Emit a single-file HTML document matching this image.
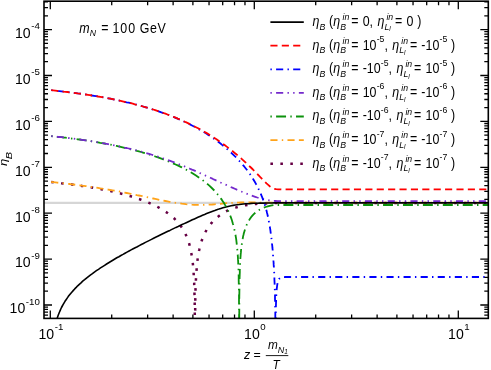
<!DOCTYPE html><html><head><meta charset="utf-8"><style>html,body{margin:0;padding:0;background:#fff}body{width:491px;height:370px;overflow:hidden;position:relative;font-family:"Liberation Sans",sans-serif}</style></head><body><svg width="491" height="370" viewBox="0 0 491 370" style="position:absolute;left:0;top:0;will-change:transform">
<defs><clipPath id="c"><rect x="44.0" y="1.2" width="444.3" height="317.2"/></clipPath></defs>
<rect x="0" y="0" width="491" height="370" fill="#fff"/>
<line x1="44.0" x2="488.3" y1="202.9" y2="202.9" stroke="#d6d6d6" stroke-width="2.4"/>
<g clip-path="url(#c)" fill="none" stroke-linejoin="round">
<path d="M51.2 182.0 L53.2 182.2 L55.3 182.5 L57.3 182.7 L59.4 182.9 L61.4 183.2 L63.4 183.4 L65.5 183.6 L67.5 183.9 L69.6 184.2 L71.6 184.4 L73.6 184.7 L75.7 185.0 L77.7 185.3 L79.8 185.6 L81.8 185.9 L83.8 186.2 L85.9 186.5 L87.9 186.8 L90.0 187.2 L92.0 187.5 L94.0 187.9 L96.1 188.2 L98.1 188.6 L100.2 189.0 L102.2 189.4 L104.2 189.8 L106.3 190.2 L108.3 190.7 L110.4 191.1 L112.4 191.5 L114.4 192.0 L116.5 192.5 L118.5 193.0 L120.6 193.5 L122.6 194.0 L124.6 194.6 L126.7 195.1 L128.7 195.7 L130.8 196.3 L132.8 197.0 L134.8 197.6 L136.9 198.3 L138.9 199.0 L141.0 199.7 L143.0 200.4 L145.0 201.2 L147.1 202.0 L149.1 202.9 L151.2 203.8 L153.2 204.7 L155.2 205.7 L157.3 206.7 L159.3 207.8 L161.4 209.0 L163.4 210.2 L165.4 211.6 L167.5 213.0 L169.5 214.5 L171.4 216.0 L173.2 217.5 L174.8 219.0 L176.3 220.6 L177.7 222.1 L179.0 223.7 L180.2 225.2 L181.3 226.7 L182.3 228.2 L183.2 229.8 L184.1 231.3 L184.9 232.8 L185.7 234.5 L186.4 236.1 L187.1 237.7 L187.7 239.2 L188.3 240.9 L188.8 242.4 L189.3 244.1 L189.7 245.7 L190.1 247.5 L190.5 249.0 L190.9 250.7 L191.2 252.6 L191.5 254.2 L191.8 256.0 L192.1 257.9 L192.3 259.5 L192.6 261.2 L192.8 263.1 L193.0 265.2 L193.1 266.7 L193.3 268.3 L193.4 270.1 L193.6 272.1 L193.7 274.3 L193.9 276.8 L194.0 279.6 L194.1 281.1 L194.2 282.8 L194.2 284.7 L194.3 286.8 L194.4 289.0 L194.4 291.6 L194.5 294.6 L194.6 298.1 L194.7 302.4 L194.7 307.8 L194.8 315.2 L194.9 326.5 L195.1 319.4 L195.2 310.5 L195.2 304.4 L195.3 299.8 L195.4 296.0 L195.5 292.8 L195.5 290.1 L195.6 287.7 L195.7 285.5 L195.8 283.6 L195.8 281.8 L195.9 280.2 L196.0 278.7 L196.1 276.0 L196.3 273.6 L196.4 271.5 L196.6 269.6 L196.7 267.8 L196.9 266.2 L197.1 264.0 L197.3 262.0 L197.5 260.2 L197.7 258.6 L197.9 257.1 L198.2 255.2 L198.5 253.5 L198.8 251.9 L199.2 250.1 L199.5 248.5 L199.9 246.9 L200.3 245.2 L200.8 243.7 L201.3 242.0 L201.8 240.5 L202.4 238.8 L203.0 237.3 L203.6 235.8 L204.4 234.2 L205.2 232.5 L206.0 231.0 L206.8 229.5 L207.8 228.0 L208.8 226.5 L210.0 224.9 L211.2 223.4 L212.5 221.8 L214.0 220.3 L215.6 218.8 L217.3 217.2 L219.3 215.7 L221.3 214.2 L223.4 212.9 L225.4 211.8 L227.5 210.7 L229.5 209.8 L231.5 209.0 L233.6 208.2 L235.6 207.6 L237.7 207.0 L239.7 206.4 L241.7 206.0 L243.8 205.6 L245.8 205.2 L247.9 204.9 L249.9 204.6 L251.9 204.4 L254.0 204.2 L256.0 204.0 L258.1 203.8 L260.1 203.7 L262.1 203.6 L264.2 203.5 L266.2 203.4 L268.3 203.3 L270.3 203.2 L272.3 203.2 L274.4 203.1 L276.4 203.1 L278.5 203.1 L280.5 203.1 L282.5 203.1 L284.6 203.1 L286.6 203.1 L288.7 203.1 L290.7 203.1 L292.7 203.1 L294.8 203.1 L296.8 203.1 L298.9 203.1 L300.9 203.1 L302.9 203.1 L305.0 203.1 L307.0 203.1 L309.1 203.1 L311.1 203.1 L313.1 203.1 L315.2 203.1 L317.2 203.1 L319.3 203.1 L321.3 203.1 L323.3 203.1 L325.4 203.1 L327.4 203.1 L329.5 203.1 L331.5 203.1 L333.5 203.1 L335.6 203.1 L337.6 203.1 L339.7 203.1 L341.7 203.1 L343.7 203.1 L345.8 203.1 L347.8 203.1 L349.9 203.1 L351.9 203.1 L353.9 203.1 L356.0 203.1 L358.0 203.1 L360.1 203.1 L362.1 203.1 L364.1 203.1 L366.2 203.1 L368.2 203.1 L370.3 203.1 L372.3 203.1 L374.3 203.1 L376.4 203.1 L378.4 203.1 L380.5 203.1 L382.5 203.1 L384.5 203.1 L386.6 203.1 L388.6 203.1 L390.7 203.1 L392.7 203.1 L394.7 203.1 L396.8 203.1 L398.8 203.1 L400.9 203.1 L402.9 203.1 L404.9 203.1 L407.0 203.1 L409.0 203.1 L411.1 203.1 L413.1 203.1 L415.1 203.1 L417.2 203.1 L419.2 203.1 L421.3 203.1 L423.3 203.1 L425.3 203.1 L427.4 203.1 L429.4 203.1 L431.5 203.1 L433.5 203.1 L435.5 203.1 L437.6 203.1 L439.6 203.1 L441.7 203.1 L443.7 203.1 L445.7 203.1 L447.8 203.1 L449.8 203.1 L451.9 203.1 L453.9 203.1 L455.9 203.1 L458.0 203.1 L460.0 203.1 L462.1 203.1 L464.1 203.1 L466.1 203.1 L468.2 203.1 L470.2 203.1 L472.3 203.1 L474.3 203.1 L476.4 203.1 L478.4 203.1 L480.4 203.1 L482.5 203.1 L484.5 203.1 L486.6 203.1 L488.3 203.1" stroke="#660044" stroke-width="2.5" stroke-dasharray="2.56 7.40"/>
<path d="M51.2 182.0 L53.2 182.2 L55.3 182.4 L57.3 182.6 L59.4 182.9 L61.4 183.1 L63.4 183.3 L65.5 183.5 L67.5 183.8 L69.6 184.0 L71.6 184.3 L73.6 184.5 L75.7 184.8 L77.7 185.0 L79.8 185.3 L81.8 185.6 L83.8 185.8 L85.9 186.1 L87.9 186.4 L90.0 186.7 L92.0 187.0 L94.0 187.3 L96.1 187.6 L98.1 187.9 L100.2 188.3 L102.2 188.6 L104.2 188.9 L106.3 189.3 L108.3 189.6 L110.4 190.0 L112.4 190.3 L114.4 190.7 L116.5 191.1 L118.5 191.4 L120.6 191.8 L122.6 192.2 L124.6 192.6 L126.7 193.0 L128.7 193.4 L130.8 193.8 L132.8 194.2 L134.8 194.6 L136.9 195.1 L138.9 195.5 L141.0 195.9 L143.0 196.3 L145.0 196.8 L147.1 197.2 L149.1 197.6 L151.2 198.1 L153.2 198.5 L155.2 198.9 L157.3 199.3 L159.3 199.8 L161.4 200.2 L163.4 200.6 L165.4 201.0 L167.5 201.4 L169.5 201.8 L171.6 202.1 L173.6 202.5 L175.6 202.8 L177.7 203.1 L179.7 203.4 L181.8 203.7 L183.8 203.9 L185.8 204.2 L187.9 204.4 L189.9 204.5 L192.0 204.7 L194.0 204.8 L196.0 204.9 L198.1 204.9 L200.1 204.9 L202.2 204.9 L204.2 204.9 L206.3 204.8 L208.3 204.7 L210.3 204.6 L212.4 204.5 L214.4 204.3 L216.5 204.1 L218.5 203.9 L220.5 203.8 L222.6 203.6 L224.6 203.4 L226.7 203.2 L228.7 203.1 L230.7 203.0 L232.8 202.8 L234.8 202.7 L236.9 202.6 L238.9 202.6 L240.9 202.5 L243.0 202.5 L245.0 202.5 L247.1 202.5 L249.1 202.5 L251.1 202.5 L253.2 202.5 L255.2 202.5 L257.3 202.6 L259.3 202.6 L261.3 202.6 L263.4 202.6 L265.4 202.7 L267.5 202.7 L269.5 202.7 L271.5 202.7 L273.6 202.7 L275.6 202.7 L277.7 202.7 L279.7 202.7 L281.7 202.7 L283.8 202.7 L285.8 202.7 L287.9 202.7 L289.9 202.7 L291.9 202.7 L294.0 202.7 L296.0 202.7 L298.1 202.7 L300.1 202.7 L302.1 202.7 L304.2 202.7 L306.2 202.7 L308.3 202.7 L310.3 202.7 L312.3 202.7 L314.4 202.7 L316.4 202.7 L318.5 202.7 L320.5 202.7 L322.5 202.7 L324.6 202.7 L326.6 202.7 L328.7 202.7 L330.7 202.7 L332.7 202.7 L334.8 202.7 L336.8 202.7 L338.9 202.7 L340.9 202.7 L342.9 202.7 L345.0 202.7 L347.0 202.7 L349.1 202.7 L351.1 202.7 L353.1 202.7 L355.2 202.7 L357.2 202.7 L359.3 202.7 L361.3 202.7 L363.3 202.7 L365.4 202.7 L367.4 202.7 L369.5 202.7 L371.5 202.7 L373.5 202.7 L375.6 202.7 L377.6 202.7 L379.7 202.7 L381.7 202.7 L383.7 202.7 L385.8 202.7 L387.8 202.7 L389.9 202.7 L391.9 202.7 L393.9 202.7 L396.0 202.7 L398.0 202.7 L400.1 202.7 L402.1 202.7 L404.1 202.7 L406.2 202.7 L408.2 202.7 L410.3 202.7 L412.3 202.7 L414.3 202.7 L416.4 202.7 L418.4 202.7 L420.5 202.7 L422.5 202.7 L424.5 202.7 L426.6 202.7 L428.6 202.7 L430.7 202.7 L432.7 202.7 L434.7 202.7 L436.8 202.7 L438.8 202.7 L440.9 202.7 L442.9 202.7 L444.9 202.7 L447.0 202.7 L449.0 202.7 L451.1 202.7 L453.1 202.7 L455.1 202.7 L457.2 202.7 L459.2 202.7 L461.3 202.7 L463.3 202.7 L465.3 202.7 L467.4 202.7 L469.4 202.7 L471.5 202.7 L473.5 202.7 L475.5 202.7 L477.6 202.7 L479.6 202.7 L481.7 202.7 L483.7 202.7 L485.7 202.7 L487.8 202.7 L488.3 202.7" stroke="#ffa319" stroke-width="1.8" stroke-dasharray="7.12 4.27 1.42 4.27 7.12 4.27"/>
<path d="M51.2 326.5 L53.2 326.5 L55.3 325.2 L55.7 323.4 L56.2 321.8 L56.6 320.2 L57.1 318.6 L57.6 317.0 L58.2 315.3 L58.8 313.8 L59.4 312.2 L60.1 310.6 L60.8 309.0 L61.5 307.5 L62.3 306.0 L63.2 304.4 L64.1 302.8 L65.0 301.3 L66.1 299.7 L67.2 298.1 L68.2 296.6 L69.4 295.1 L70.7 293.5 L72.0 292.0 L73.4 290.4 L74.7 288.9 L76.2 287.4 L77.7 285.8 L79.3 284.3 L81.0 282.8 L82.7 281.2 L84.6 279.7 L86.5 278.1 L88.4 276.6 L90.3 275.1 L92.4 273.6 L94.4 272.1 L96.4 270.7 L98.5 269.3 L100.5 267.9 L102.6 266.6 L104.6 265.3 L106.6 264.0 L108.7 262.7 L110.7 261.5 L112.8 260.2 L114.8 259.0 L116.8 257.8 L118.9 256.7 L120.9 255.5 L123.0 254.4 L125.0 253.2 L127.0 252.1 L129.1 251.0 L131.1 249.9 L133.2 248.8 L135.2 247.7 L137.3 246.7 L139.3 245.6 L141.3 244.5 L143.4 243.5 L145.4 242.4 L147.5 241.4 L149.5 240.4 L151.5 239.4 L153.6 238.3 L155.6 237.3 L157.7 236.3 L159.7 235.3 L161.7 234.3 L163.8 233.3 L165.8 232.3 L167.9 231.3 L169.9 230.4 L171.9 229.4 L174.0 228.4 L176.0 227.4 L178.1 226.5 L180.1 225.5 L182.1 224.6 L184.2 223.6 L186.2 222.7 L188.3 221.7 L190.3 220.8 L192.3 219.8 L194.4 218.9 L196.4 218.0 L198.5 217.1 L200.5 216.2 L202.5 215.3 L204.6 214.5 L206.6 213.6 L208.7 212.8 L210.7 212.0 L212.7 211.2 L214.8 210.5 L216.8 209.7 L218.9 209.1 L220.9 208.4 L222.9 207.8 L225.0 207.2 L227.0 206.7 L229.1 206.2 L231.1 205.8 L233.1 205.4 L235.2 205.0 L237.2 204.7 L239.3 204.5 L241.3 204.2 L243.3 204.0 L245.4 203.8 L247.4 203.7 L249.5 203.6 L251.5 203.4 L253.5 203.3 L255.6 203.3 L257.6 203.2 L259.7 203.1 L261.7 203.1 L263.7 203.1 L265.8 203.0 L267.8 203.0 L269.9 203.0 L271.9 203.0 L273.9 202.9 L276.0 202.9 L278.0 202.9 L280.1 202.9 L282.1 202.9 L284.1 202.9 L286.2 202.9 L288.2 202.9 L290.3 202.9 L292.3 202.9 L294.3 202.9 L296.4 202.9 L298.4 202.9 L300.5 202.9 L302.5 202.9 L304.5 202.9 L306.6 202.9 L308.6 202.9 L310.7 202.9 L312.7 202.9 L314.7 202.9 L316.8 202.9 L318.8 202.9 L320.9 202.9 L322.9 202.9 L324.9 202.9 L327.0 202.9 L329.0 202.9 L331.1 202.9 L333.1 202.9 L335.1 202.9 L337.2 202.9 L339.2 202.9 L341.3 202.9 L343.3 202.9 L345.3 202.9 L347.4 202.9 L349.4 202.9 L351.5 202.9 L353.5 202.9 L355.5 202.9 L357.6 202.9 L359.6 202.9 L361.7 202.9 L363.7 202.9 L365.7 202.9 L367.8 202.9 L369.8 202.9 L371.9 202.9 L373.9 202.9 L375.9 202.9 L378.0 202.9 L380.0 202.9 L382.1 202.9 L384.1 202.9 L386.1 202.9 L388.2 202.9 L390.2 202.9 L392.3 202.9 L394.3 202.9 L396.3 202.9 L398.4 202.9 L400.4 202.9 L402.5 202.9 L404.5 202.9 L406.5 202.9 L408.6 202.9 L410.6 202.9 L412.7 202.9 L414.7 202.9 L416.7 202.9 L418.8 202.9 L420.8 202.9 L422.9 202.9 L424.9 202.9 L427.0 202.9 L429.0 202.9 L431.0 202.9 L433.1 202.9 L435.1 202.9 L437.2 202.9 L439.2 202.9 L441.2 202.9 L443.3 202.9 L445.3 202.9 L447.4 202.9 L449.4 202.9 L451.4 202.9 L453.5 202.9 L455.5 202.9 L457.6 202.9 L459.6 202.9 L461.6 202.9 L463.7 202.9 L465.7 202.9 L467.8 202.9 L469.8 202.9 L471.8 202.9 L473.9 202.9 L475.9 202.9 L478.0 202.9 L480.0 202.9 L482.0 202.9 L484.1 202.9 L486.1 202.9 L488.2 202.9 L488.3 202.9" stroke="#000000" stroke-width="1.6"/>
<path d="M51.2 136.1 L53.2 136.3 L55.3 136.5 L57.3 136.8 L59.4 137.0 L61.4 137.2 L63.4 137.5 L65.5 137.7 L67.5 137.9 L69.6 138.2 L71.6 138.5 L73.6 138.7 L75.7 139.0 L77.7 139.3 L79.8 139.5 L81.8 139.8 L83.8 140.1 L85.9 140.4 L87.9 140.7 L90.0 141.1 L92.0 141.4 L94.0 141.7 L96.1 142.1 L98.1 142.4 L100.2 142.8 L102.2 143.1 L104.2 143.5 L106.3 143.9 L108.3 144.3 L110.4 144.7 L112.4 145.1 L114.4 145.5 L116.5 145.9 L118.5 146.4 L120.6 146.8 L122.6 147.3 L124.6 147.8 L126.7 148.3 L128.7 148.8 L130.8 149.3 L132.8 149.8 L134.8 150.3 L136.9 150.9 L138.9 151.4 L141.0 152.0 L143.0 152.6 L145.0 153.2 L147.1 153.8 L149.1 154.5 L151.2 155.1 L153.2 155.8 L155.2 156.5 L157.3 157.2 L159.3 157.9 L161.4 158.6 L163.4 159.4 L165.4 160.2 L167.5 161.0 L169.5 161.8 L171.6 162.7 L173.6 163.6 L175.6 164.5 L177.7 165.4 L179.7 166.4 L181.8 167.4 L183.8 168.5 L185.8 169.5 L187.9 170.6 L189.9 171.8 L192.0 173.0 L194.0 174.3 L196.0 175.6 L198.1 176.9 L200.1 178.3 L202.2 179.8 L204.1 181.3 L206.0 182.8 L207.9 184.4 L209.6 185.9 L211.3 187.5 L212.8 189.0 L214.3 190.5 L215.7 192.1 L217.1 193.7 L218.4 195.2 L219.7 196.8 L220.8 198.4 L221.9 199.9 L222.9 201.4 L224.0 203.0 L224.9 204.6 L225.8 206.1 L226.7 207.8 L227.5 209.3 L228.2 210.8 L228.9 212.4 L229.6 214.0 L230.2 215.6 L230.8 217.1 L231.4 218.8 L231.9 220.3 L232.4 221.9 L232.9 223.7 L233.4 225.3 L233.8 227.0 L234.2 228.5 L234.5 230.2 L234.9 231.9 L235.2 233.4 L235.5 235.0 L235.8 236.8 L236.1 238.7 L236.3 240.2 L236.5 241.9 L236.7 243.6 L236.9 245.6 L237.1 247.7 L237.3 249.3 L237.4 250.9 L237.6 252.7 L237.7 254.7 L237.9 256.9 L238.0 259.4 L238.2 262.2 L238.2 263.7 L238.3 265.4 L238.4 267.2 L238.5 269.2 L238.5 271.4 L238.6 273.9 L238.7 276.7 L238.7 280.0 L238.8 284.0 L238.9 288.9 L239.0 295.3 L239.0 305.0 L239.1 324.2 L239.2 326.5 L239.3 308.2 L239.3 297.3 L239.4 290.4 L239.5 285.2 L239.5 281.2 L239.6 277.8 L239.7 274.9 L239.8 272.4 L239.8 270.2 L239.9 268.2 L240.0 266.4 L240.1 264.8 L240.1 263.2 L240.3 260.5 L240.4 258.1 L240.6 256.0 L240.7 254.1 L240.9 252.4 L241.0 250.8 L241.2 248.6 L241.4 246.7 L241.7 245.0 L241.9 243.4 L242.2 241.5 L242.5 239.7 L242.8 238.2 L243.1 236.4 L243.5 234.8 L243.9 233.0 L244.4 231.4 L244.9 229.7 L245.4 228.2 L246.0 226.7 L246.6 225.1 L247.3 223.5 L248.1 221.9 L249.0 220.4 L250.0 218.8 L251.1 217.2 L252.4 215.7 L253.8 214.2 L255.5 212.6 L257.5 211.1 L259.5 209.8 L261.6 208.7 L263.6 207.8 L265.6 207.0 L267.7 206.3 L269.7 205.8 L271.8 205.4 L273.8 205.1 L275.8 205.0 L277.9 205.0 L279.9 205.0 L282.0 205.0 L284.0 205.0 L286.0 205.0 L288.1 205.0 L290.1 205.0 L292.2 205.0 L294.2 205.0 L296.2 205.0 L298.3 205.0 L300.3 205.0 L302.4 205.0 L304.4 205.0 L306.4 205.0 L308.5 205.0 L310.5 205.0 L312.6 205.0 L314.6 205.0 L316.6 205.0 L318.7 205.0 L320.7 205.0 L322.8 205.0 L324.8 205.0 L326.8 205.0 L328.9 205.0 L330.9 205.0 L333.0 205.0 L335.0 205.0 L337.0 205.0 L339.1 205.0 L341.1 205.0 L343.2 205.0 L345.2 205.0 L347.2 205.0 L349.3 205.0 L351.3 205.0 L353.4 205.0 L355.4 205.0 L357.4 205.0 L359.5 205.0 L361.5 205.0 L363.6 205.0 L365.6 205.0 L367.6 205.0 L369.7 205.0 L371.7 205.0 L373.8 205.0 L375.8 205.0 L377.8 205.0 L379.9 205.0 L381.9 205.0 L384.0 205.0 L386.0 205.0 L388.0 205.0 L390.1 205.0 L392.1 205.0 L394.2 205.0 L396.2 205.0 L398.2 205.0 L400.3 205.0 L402.3 205.0 L404.4 205.0 L406.4 205.0 L408.4 205.0 L410.5 205.0 L412.5 205.0 L414.6 205.0 L416.6 205.0 L418.6 205.0 L420.7 205.0 L422.7 205.0 L424.8 205.0 L426.8 205.0 L428.8 205.0 L430.9 205.0 L432.9 205.0 L435.0 205.0 L437.0 205.0 L439.0 205.0 L441.1 205.0 L443.1 205.0 L445.2 205.0 L447.2 205.0 L449.2 205.0 L451.3 205.0 L453.3 205.0 L455.4 205.0 L457.4 205.0 L459.4 205.0 L461.5 205.0 L463.5 205.0 L465.6 205.0 L467.6 205.0 L469.6 205.0 L471.7 205.0 L473.7 205.0 L475.8 205.0 L477.8 205.0 L479.8 205.0 L481.9 205.0 L483.9 205.0 L486.0 205.0 L488.0 205.0 L488.3 205.0" stroke="#0c920c" stroke-width="1.8" stroke-dasharray="1.42 4.27 9.97 4.27"/>
<path d="M51.2 136.1 L53.2 136.3 L55.3 136.5 L57.3 136.8 L59.4 137.0 L61.4 137.2 L63.4 137.4 L65.5 137.7 L67.5 137.9 L69.6 138.2 L71.6 138.4 L73.6 138.7 L75.7 139.0 L77.7 139.2 L79.8 139.5 L81.8 139.8 L83.8 140.1 L85.9 140.4 L87.9 140.7 L90.0 141.0 L92.0 141.3 L94.0 141.7 L96.1 142.0 L98.1 142.3 L100.2 142.7 L102.2 143.1 L104.2 143.4 L106.3 143.8 L108.3 144.2 L110.4 144.6 L112.4 145.0 L114.4 145.4 L116.5 145.8 L118.5 146.2 L120.6 146.7 L122.6 147.1 L124.6 147.6 L126.7 148.0 L128.7 148.5 L130.8 149.0 L132.8 149.5 L134.8 150.0 L136.9 150.5 L138.9 151.1 L141.0 151.6 L143.0 152.2 L145.0 152.8 L147.1 153.3 L149.1 153.9 L151.2 154.5 L153.2 155.2 L155.2 155.8 L157.3 156.4 L159.3 157.1 L161.4 157.8 L163.4 158.5 L165.4 159.2 L167.5 159.9 L169.5 160.6 L171.6 161.4 L173.6 162.1 L175.6 162.9 L177.7 163.7 L179.7 164.5 L181.8 165.3 L183.8 166.1 L185.8 167.0 L187.9 167.8 L189.9 168.7 L192.0 169.6 L194.0 170.4 L196.0 171.3 L198.1 172.2 L200.1 173.2 L202.2 174.1 L204.2 175.0 L206.3 175.9 L208.3 176.9 L210.3 177.8 L212.4 178.7 L214.4 179.7 L216.5 180.6 L218.5 181.5 L220.5 182.5 L222.6 183.4 L224.6 184.3 L226.7 185.2 L228.7 186.1 L230.7 187.0 L232.8 187.9 L234.8 188.8 L236.9 189.7 L238.9 190.5 L240.9 191.4 L243.0 192.2 L245.0 193.0 L247.1 193.8 L249.1 194.6 L251.1 195.4 L253.2 196.1 L255.2 196.8 L257.3 197.5 L259.3 198.1 L261.3 198.7 L263.4 199.2 L265.4 199.7 L267.5 200.1 L269.5 200.5 L271.5 200.8 L273.6 200.9 L275.6 201.0 L277.7 201.1 L279.7 201.1 L281.7 201.1 L283.8 201.1 L285.8 201.1 L287.9 201.1 L289.9 201.1 L291.9 201.1 L294.0 201.1 L296.0 201.1 L298.1 201.1 L300.1 201.1 L302.1 201.1 L304.2 201.1 L306.2 201.1 L308.3 201.1 L310.3 201.1 L312.3 201.1 L314.4 201.1 L316.4 201.1 L318.5 201.1 L320.5 201.1 L322.5 201.1 L324.6 201.1 L326.6 201.1 L328.7 201.1 L330.7 201.1 L332.7 201.1 L334.8 201.1 L336.8 201.1 L338.9 201.1 L340.9 201.1 L342.9 201.1 L345.0 201.1 L347.0 201.1 L349.1 201.1 L351.1 201.1 L353.1 201.1 L355.2 201.1 L357.2 201.1 L359.3 201.1 L361.3 201.1 L363.3 201.1 L365.4 201.1 L367.4 201.1 L369.5 201.1 L371.5 201.1 L373.5 201.1 L375.6 201.1 L377.6 201.1 L379.7 201.1 L381.7 201.1 L383.7 201.1 L385.8 201.1 L387.8 201.1 L389.9 201.1 L391.9 201.1 L393.9 201.1 L396.0 201.1 L398.0 201.1 L400.1 201.1 L402.1 201.1 L404.1 201.1 L406.2 201.1 L408.2 201.1 L410.3 201.1 L412.3 201.1 L414.3 201.1 L416.4 201.1 L418.4 201.1 L420.5 201.1 L422.5 201.1 L424.5 201.1 L426.6 201.1 L428.6 201.1 L430.7 201.1 L432.7 201.1 L434.7 201.1 L436.8 201.1 L438.8 201.1 L440.9 201.1 L442.9 201.1 L444.9 201.1 L447.0 201.1 L449.0 201.1 L451.1 201.1 L453.1 201.1 L455.1 201.1 L457.2 201.1 L459.2 201.1 L461.3 201.1 L463.3 201.1 L465.3 201.1 L467.4 201.1 L469.4 201.1 L471.5 201.1 L473.5 201.1 L475.5 201.1 L477.6 201.1 L479.6 201.1 L481.7 201.1 L483.7 201.1 L485.7 201.1 L487.8 201.1 L488.3 201.1" stroke="#7429cc" stroke-width="1.8" stroke-dasharray="1.42 4.27 7.12 4.27 1.42 4.27"/>
<path d="M51.2 90.2 L53.2 90.4 L55.3 90.6 L57.3 90.9 L59.4 91.1 L61.4 91.3 L63.4 91.6 L65.5 91.8 L67.5 92.0 L69.6 92.3 L71.6 92.5 L73.6 92.8 L75.7 93.1 L77.7 93.4 L79.8 93.6 L81.8 93.9 L83.8 94.2 L85.9 94.5 L87.9 94.8 L90.0 95.1 L92.0 95.5 L94.0 95.8 L96.1 96.1 L98.1 96.5 L100.2 96.8 L102.2 97.2 L104.2 97.6 L106.3 97.9 L108.3 98.3 L110.4 98.7 L112.4 99.1 L114.4 99.6 L116.5 100.0 L118.5 100.4 L120.6 100.9 L122.6 101.3 L124.6 101.8 L126.7 102.3 L128.7 102.7 L130.8 103.2 L132.8 103.8 L134.8 104.3 L136.9 104.8 L138.9 105.4 L141.0 105.9 L143.0 106.5 L145.0 107.1 L147.1 107.7 L149.1 108.3 L151.2 109.0 L153.2 109.6 L155.2 110.3 L157.3 110.9 L159.3 111.6 L161.4 112.4 L163.4 113.1 L165.4 113.8 L167.5 114.6 L169.5 115.4 L171.6 116.2 L173.6 117.0 L175.6 117.9 L177.7 118.7 L179.7 119.6 L181.8 120.5 L183.8 121.5 L185.8 122.4 L187.9 123.4 L189.9 124.4 L192.0 125.5 L194.0 126.5 L196.0 127.6 L198.1 128.8 L200.1 129.9 L202.2 131.1 L204.2 132.3 L206.3 133.6 L208.3 134.9 L210.3 136.2 L212.4 137.6 L214.4 139.1 L216.5 140.5 L218.5 142.0 L220.5 143.5 L222.4 145.1 L224.3 146.6 L226.1 148.2 L227.9 149.7 L229.6 151.2 L231.3 152.8 L232.9 154.3 L234.5 155.9 L236.1 157.4 L237.5 158.9 L239.0 160.5 L240.4 162.0 L241.7 163.6 L243.0 165.1 L244.4 166.7 L245.6 168.2 L246.8 169.7 L247.9 171.3 L249.0 172.8 L250.1 174.3 L251.1 175.9 L252.2 177.4 L253.1 179.0 L254.0 180.5 L254.9 182.0 L255.8 183.6 L256.7 185.2 L257.5 186.8 L258.3 188.4 L259.0 189.9 L259.7 191.5 L260.5 193.1 L261.1 194.7 L261.8 196.3 L262.4 197.9 L263.0 199.5 L263.6 201.1 L264.2 202.8 L264.7 204.4 L265.2 206.1 L265.7 207.8 L266.1 209.3 L266.6 211.0 L267.0 212.7 L267.4 214.2 L267.7 215.8 L268.1 217.5 L268.5 219.2 L268.8 221.1 L269.1 222.6 L269.4 224.3 L269.7 226.0 L270.0 227.8 L270.3 229.7 L270.5 231.2 L270.7 232.8 L271.0 234.4 L271.2 236.1 L271.4 237.9 L271.6 239.8 L271.8 241.8 L272.0 243.9 L272.3 246.1 L272.4 247.7 L272.6 249.3 L272.7 250.9 L272.8 252.7 L273.0 254.5 L273.1 256.4 L273.3 258.4 L273.4 260.4 L273.6 262.6 L273.7 264.9 L273.9 267.4 L274.0 270.0 L274.2 272.8 L274.2 274.3 L274.3 275.9 L274.4 277.6 L274.4 279.3 L274.5 281.1 L274.6 283.1 L274.7 285.1 L274.7 287.3 L274.8 289.8 L274.9 292.4 L275.0 295.3 L275.0 298.6 L275.1 302.4 L275.2 306.9 L275.3 312.4 L275.3 319.7 L275.4 326.5 L275.7 320.7 L275.8 314.6 L275.8 310.1 L275.9 306.6 L276.0 303.7 L276.1 301.3 L276.1 299.2 L276.2 297.4 L276.3 295.8 L276.4 293.2 L276.6 291.0 L276.7 289.2 L276.9 287.7 L277.1 285.9 L277.4 284.0 L277.7 282.2 L278.2 280.5 L279.0 278.9 L281.1 277.4 L283.1 277.1 L285.2 277.0 L287.2 277.0 L289.2 277.0 L291.3 277.0 L293.3 277.0 L295.4 277.0 L297.4 277.0 L299.4 277.0 L301.5 277.0 L303.5 277.0 L305.6 277.0 L307.6 277.0 L309.6 277.0 L311.7 277.0 L313.7 277.0 L315.8 277.0 L317.8 277.0 L319.8 277.0 L321.9 277.0 L323.9 277.0 L326.0 277.0 L328.0 277.0 L330.0 277.0 L332.1 277.0 L334.1 277.0 L336.2 277.0 L338.2 277.0 L340.2 277.0 L342.3 277.0 L344.3 277.0 L346.4 277.0 L348.4 277.0 L350.4 277.0 L352.5 277.0 L354.5 277.0 L356.6 277.0 L358.6 277.0 L360.6 277.0 L362.7 277.0 L364.7 277.0 L366.8 277.0 L368.8 277.0 L370.8 277.0 L372.9 277.0 L374.9 277.0 L377.0 277.0 L379.0 277.0 L381.0 277.0 L383.1 277.0 L385.1 277.0 L387.2 277.0 L389.2 277.0 L391.2 277.0 L393.3 277.0 L395.3 277.0 L397.4 277.0 L399.4 277.0 L401.4 277.0 L403.5 277.0 L405.5 277.0 L407.6 277.0 L409.6 277.0 L411.6 277.0 L413.7 277.0 L415.7 277.0 L417.8 277.0 L419.8 277.0 L421.8 277.0 L423.9 277.0 L425.9 277.0 L428.0 277.0 L430.0 277.0 L432.1 277.0 L434.1 277.0 L436.1 277.0 L438.2 277.0 L440.2 277.0 L442.3 277.0 L444.3 277.0 L446.3 277.0 L448.4 277.0 L450.4 277.0 L452.5 277.0 L454.5 277.0 L456.5 277.0 L458.6 277.0 L460.6 277.0 L462.7 277.0 L464.7 277.0 L466.7 277.0 L468.8 277.0 L470.8 277.0 L472.9 277.0 L474.9 277.0 L476.9 277.0 L479.0 277.0 L481.0 277.0 L483.1 277.0 L485.1 277.0 L487.1 277.0 L488.3 277.0" stroke="#0000ff" stroke-width="1.8" stroke-dasharray="1.42 4.27 7.12 4.27"/>
<path d="M51.2 90.2 L53.2 90.4 L55.3 90.6 L57.3 90.9 L59.4 91.1 L61.4 91.3 L63.4 91.6 L65.5 91.8 L67.5 92.0 L69.6 92.3 L71.6 92.5 L73.6 92.8 L75.7 93.1 L77.7 93.4 L79.8 93.6 L81.8 93.9 L83.8 94.2 L85.9 94.5 L87.9 94.8 L90.0 95.1 L92.0 95.5 L94.0 95.8 L96.1 96.1 L98.1 96.5 L100.2 96.8 L102.2 97.2 L104.2 97.6 L106.3 97.9 L108.3 98.3 L110.4 98.7 L112.4 99.1 L114.4 99.5 L116.5 100.0 L118.5 100.4 L120.6 100.8 L122.6 101.3 L124.6 101.8 L126.7 102.2 L128.7 102.7 L130.8 103.2 L132.8 103.7 L134.8 104.3 L136.9 104.8 L138.9 105.3 L141.0 105.9 L143.0 106.5 L145.0 107.1 L147.1 107.7 L149.1 108.3 L151.2 108.9 L153.2 109.5 L155.2 110.2 L157.3 110.9 L159.3 111.6 L161.4 112.3 L163.4 113.0 L165.4 113.7 L167.5 114.5 L169.5 115.3 L171.6 116.1 L173.6 116.9 L175.6 117.7 L177.7 118.6 L179.7 119.4 L181.8 120.3 L183.8 121.2 L185.8 122.2 L187.9 123.1 L189.9 124.1 L192.0 125.1 L194.0 126.2 L196.0 127.2 L198.1 128.3 L200.1 129.4 L202.2 130.6 L204.2 131.7 L206.3 132.9 L208.3 134.1 L210.3 135.4 L212.4 136.7 L214.4 138.0 L216.5 139.3 L218.5 140.7 L220.5 142.1 L222.6 143.6 L224.6 145.0 L226.7 146.6 L228.7 148.1 L230.7 149.6 L232.6 151.2 L234.4 152.7 L236.3 154.2 L238.1 155.8 L239.8 157.3 L241.6 158.8 L243.3 160.3 L244.9 161.8 L246.6 163.4 L248.2 164.9 L249.8 166.5 L251.4 168.0 L252.9 169.5 L254.4 171.1 L255.9 172.6 L257.4 174.1 L258.9 175.7 L260.3 177.2 L261.8 178.7 L263.4 180.3 L264.9 181.8 L266.5 183.4 L268.2 184.9 L270.0 186.5 L272.0 187.9 L274.1 188.8 L276.1 189.2 L278.2 189.3 L280.2 189.3 L282.2 189.4 L284.3 189.4 L286.3 189.4 L288.4 189.4 L290.4 189.4 L292.4 189.4 L294.5 189.4 L296.5 189.4 L298.6 189.4 L300.6 189.4 L302.6 189.4 L304.7 189.4 L306.7 189.4 L308.8 189.4 L310.8 189.4 L312.8 189.4 L314.9 189.4 L316.9 189.4 L319.0 189.4 L321.0 189.4 L323.0 189.4 L325.1 189.4 L327.1 189.4 L329.2 189.4 L331.2 189.4 L333.2 189.4 L335.3 189.4 L337.3 189.4 L339.4 189.4 L341.4 189.4 L343.5 189.4 L345.5 189.4 L347.5 189.4 L349.6 189.4 L351.6 189.4 L353.7 189.4 L355.7 189.4 L357.7 189.4 L359.8 189.4 L361.8 189.4 L363.9 189.4 L365.9 189.4 L367.9 189.4 L370.0 189.4 L372.0 189.4 L374.1 189.4 L376.1 189.4 L378.1 189.4 L380.2 189.4 L382.2 189.4 L384.3 189.4 L386.3 189.4 L388.3 189.4 L390.4 189.4 L392.4 189.4 L394.5 189.4 L396.5 189.4 L398.5 189.4 L400.6 189.4 L402.6 189.4 L404.7 189.4 L406.7 189.4 L408.7 189.4 L410.8 189.4 L412.8 189.4 L414.9 189.4 L416.9 189.4 L418.9 189.4 L421.0 189.4 L423.0 189.4 L425.1 189.4 L427.1 189.4 L429.1 189.4 L431.2 189.4 L433.2 189.4 L435.3 189.4 L437.3 189.4 L439.3 189.4 L441.4 189.4 L443.4 189.4 L445.5 189.4 L447.5 189.4 L449.5 189.4 L451.6 189.4 L453.6 189.4 L455.7 189.4 L457.7 189.4 L459.7 189.4 L461.8 189.4 L463.8 189.4 L465.9 189.4 L467.9 189.4 L469.9 189.4 L472.0 189.4 L474.0 189.4 L476.1 189.4 L478.1 189.4 L480.1 189.4 L482.2 189.4 L484.2 189.4 L486.3 189.4 L488.3 189.4" stroke="#ff0000" stroke-width="1.8" stroke-dasharray="7.12 4.27"/>
</g>
<rect x="44.0" y="1.2" width="444.3" height="317.2" fill="none" stroke="#000" stroke-width="1.6"/>
<path d="M50.30 318.50 v-8.00 M50.30 1.25 v8.00 M111.71 318.50 v-4.00 M111.71 1.25 v4.00 M147.63 318.50 v-4.00 M147.63 1.25 v4.00 M173.12 318.50 v-4.00 M173.12 1.25 v4.00 M192.89 318.50 v-4.00 M192.89 1.25 v4.00 M209.04 318.50 v-4.00 M209.04 1.25 v4.00 M222.70 318.50 v-4.00 M222.70 1.25 v4.00 M234.53 318.50 v-4.00 M234.53 1.25 v4.00 M244.97 318.50 v-4.00 M244.97 1.25 v4.00 M254.30 318.50 v-8.00 M254.30 1.25 v8.00 M315.71 318.50 v-4.00 M315.71 1.25 v4.00 M351.63 318.50 v-4.00 M351.63 1.25 v4.00 M377.12 318.50 v-4.00 M377.12 1.25 v4.00 M396.89 318.50 v-4.00 M396.89 1.25 v4.00 M413.04 318.50 v-4.00 M413.04 1.25 v4.00 M426.70 318.50 v-4.00 M426.70 1.25 v4.00 M438.53 318.50 v-4.00 M438.53 1.25 v4.00 M448.97 318.50 v-4.00 M448.97 1.25 v4.00 M458.30 318.50 v-8.00 M458.30 1.25 v8.00 M44.00 315.18 h4.00 M488.30 315.18 h-4.00 M44.00 312.11 h4.00 M488.30 312.11 h-4.00 M44.00 309.45 h4.00 M488.30 309.45 h-4.00 M44.00 307.10 h4.00 M488.30 307.10 h-4.00 M44.00 305.00 h8.00 M488.30 305.00 h-8.00 M44.00 291.18 h4.00 M488.30 291.18 h-4.00 M44.00 283.10 h4.00 M488.30 283.10 h-4.00 M44.00 277.37 h4.00 M488.30 277.37 h-4.00 M44.00 272.92 h4.00 M488.30 272.92 h-4.00 M44.00 269.28 h4.00 M488.30 269.28 h-4.00 M44.00 266.21 h4.00 M488.30 266.21 h-4.00 M44.00 263.55 h4.00 M488.30 263.55 h-4.00 M44.00 261.20 h4.00 M488.30 261.20 h-4.00 M44.00 259.10 h8.00 M488.30 259.10 h-8.00 M44.00 245.28 h4.00 M488.30 245.28 h-4.00 M44.00 237.20 h4.00 M488.30 237.20 h-4.00 M44.00 231.47 h4.00 M488.30 231.47 h-4.00 M44.00 227.02 h4.00 M488.30 227.02 h-4.00 M44.00 223.38 h4.00 M488.30 223.38 h-4.00 M44.00 220.31 h4.00 M488.30 220.31 h-4.00 M44.00 217.65 h4.00 M488.30 217.65 h-4.00 M44.00 215.30 h4.00 M488.30 215.30 h-4.00 M44.00 213.20 h8.00 M488.30 213.20 h-8.00 M44.00 199.38 h4.00 M488.30 199.38 h-4.00 M44.00 191.30 h4.00 M488.30 191.30 h-4.00 M44.00 185.57 h4.00 M488.30 185.57 h-4.00 M44.00 181.12 h4.00 M488.30 181.12 h-4.00 M44.00 177.48 h4.00 M488.30 177.48 h-4.00 M44.00 174.41 h4.00 M488.30 174.41 h-4.00 M44.00 171.75 h4.00 M488.30 171.75 h-4.00 M44.00 169.40 h4.00 M488.30 169.40 h-4.00 M44.00 167.30 h8.00 M488.30 167.30 h-8.00 M44.00 153.48 h4.00 M488.30 153.48 h-4.00 M44.00 145.40 h4.00 M488.30 145.40 h-4.00 M44.00 139.67 h4.00 M488.30 139.67 h-4.00 M44.00 135.22 h4.00 M488.30 135.22 h-4.00 M44.00 131.58 h4.00 M488.30 131.58 h-4.00 M44.00 128.51 h4.00 M488.30 128.51 h-4.00 M44.00 125.85 h4.00 M488.30 125.85 h-4.00 M44.00 123.50 h4.00 M488.30 123.50 h-4.00 M44.00 121.40 h8.00 M488.30 121.40 h-8.00 M44.00 107.58 h4.00 M488.30 107.58 h-4.00 M44.00 99.50 h4.00 M488.30 99.50 h-4.00 M44.00 93.77 h4.00 M488.30 93.77 h-4.00 M44.00 89.32 h4.00 M488.30 89.32 h-4.00 M44.00 85.68 h4.00 M488.30 85.68 h-4.00 M44.00 82.61 h4.00 M488.30 82.61 h-4.00 M44.00 79.95 h4.00 M488.30 79.95 h-4.00 M44.00 77.60 h4.00 M488.30 77.60 h-4.00 M44.00 75.50 h8.00 M488.30 75.50 h-8.00 M44.00 61.68 h4.00 M488.30 61.68 h-4.00 M44.00 53.60 h4.00 M488.30 53.60 h-4.00 M44.00 47.87 h4.00 M488.30 47.87 h-4.00 M44.00 43.42 h4.00 M488.30 43.42 h-4.00 M44.00 39.78 h4.00 M488.30 39.78 h-4.00 M44.00 36.71 h4.00 M488.30 36.71 h-4.00 M44.00 34.05 h4.00 M488.30 34.05 h-4.00 M44.00 31.70 h4.00 M488.30 31.70 h-4.00 M44.00 29.60 h8.00 M488.30 29.60 h-8.00 M44.00 15.78 h4.00 M488.30 15.78 h-4.00 M44.00 7.70 h4.00 M488.30 7.70 h-4.00 M44.00 1.97 h4.00 M488.30 1.97 h-4.00" stroke="#000" stroke-width="1.3" fill="none"/>
<g font-family="Liberation Sans, sans-serif" fill="#000">
<text transform="translate(38.50 338.90) scale(1 1.09)" font-size="14.10px">10</text><text transform="translate(54.68 329.80) scale(1 1.00)" font-size="9.70px">-1</text>
<text transform="translate(244.11 338.90) scale(1 1.09)" font-size="14.10px">10</text><text transform="translate(260.29 329.80) scale(1 1.00)" font-size="9.70px">0</text>
<text transform="translate(448.11 338.90) scale(1 1.09)" font-size="14.10px">10</text><text transform="translate(464.29 329.80) scale(1 1.00)" font-size="9.70px">1</text>
<text transform="translate(9.60 313.30) scale(1 1.09)" font-size="14.10px">10</text><text transform="translate(25.78 304.50) scale(1 1.00)" font-size="9.70px">-10</text>
<text transform="translate(14.99 267.40) scale(1 1.09)" font-size="14.10px">10</text><text transform="translate(31.17 258.60) scale(1 1.00)" font-size="9.70px">-9</text>
<text transform="translate(14.99 221.50) scale(1 1.09)" font-size="14.10px">10</text><text transform="translate(31.17 212.70) scale(1 1.00)" font-size="9.70px">-8</text>
<text transform="translate(14.99 175.60) scale(1 1.09)" font-size="14.10px">10</text><text transform="translate(31.17 166.80) scale(1 1.00)" font-size="9.70px">-7</text>
<text transform="translate(14.99 129.70) scale(1 1.09)" font-size="14.10px">10</text><text transform="translate(31.17 120.90) scale(1 1.00)" font-size="9.70px">-6</text>
<text transform="translate(14.99 83.80) scale(1 1.09)" font-size="14.10px">10</text><text transform="translate(31.17 75.00) scale(1 1.00)" font-size="9.70px">-5</text>
<text transform="translate(14.99 37.90) scale(1 1.09)" font-size="14.10px">10</text><text transform="translate(31.17 29.10) scale(1 1.00)" font-size="9.70px">-4</text>
<text transform="translate(79.20 32.80) scale(1 1.12)" font-size="12.45px" font-style="italic">m</text><text transform="translate(89.77 35.60) scale(1 1.00)" font-size="8.70px" font-style="italic">N</text>
<text transform="translate(101.30 32.80) scale(1 1.12)" font-size="12.45px">=</text>
<text transform="translate(112.60 32.80) scale(1 1.12)" font-size="12.45px" letter-spacing="0.85">100</text>
<text transform="translate(139.80 32.80) scale(1 1.12)" font-size="12.45px" letter-spacing="0.50">GeV</text>
<text transform="translate(244.00 358.70) scale(1 1.05)" font-size="12.60px" font-style="italic">z</text>
<text transform="translate(253.60 358.90) scale(1 1.00)" font-size="12.40px">=</text>
<line x1="265.8" x2="288.3" y1="355.6" y2="355.6" stroke="#000" stroke-width="0.9"/>
<text transform="translate(268.10 348.80) scale(1 1.05)" font-size="11.80px" font-style="italic">m</text><text transform="translate(277.63 353.00) scale(1 1.00)" font-size="9.00px" font-style="italic">N</text><text transform="translate(284.33 353.70) scale(1 1.00)" font-size="6.40px" font-style="italic">1</text>
<text transform="translate(272.40 369.10) scale(1 1.03)" font-size="11.80px" font-style="italic">T</text>
<g transform="translate(7.1,166.0) rotate(-90) scale(1.12 1)"><text transform="translate(0.00 0.00) scale(1 1.00)" font-size="11.80px" font-style="italic">η</text><text transform="translate(6.05 5.30) scale(1 1.00)" font-size="9.80px" font-style="italic">B</text></g>
<line x1="270.4" x2="303.8" y1="22.1" y2="22.1" stroke="#000000" stroke-width="1.6"/>
<text transform="translate(312.60 26.00) scale(1 1.12)" font-size="12.45px" font-style="italic">η</text><text transform="translate(319.51 29.50) scale(1 1.00)" font-size="8.70px" font-style="italic">B</text><text transform="translate(329.07 26.00) scale(1 1.12)" font-size="12.45px">(</text><text transform="translate(333.22 26.00) scale(1 1.12)" font-size="12.45px" font-style="italic">η</text>
<text transform="translate(340.13 29.50) scale(1 1.00)" font-size="8.70px" font-style="italic">B</text>
<text transform="translate(342.53 20.10) scale(1 1.00)" font-size="8.70px" font-style="italic">in</text>
<text transform="translate(351.20 26.00) scale(1 1.12)" font-size="12.45px">=</text><text transform="translate(362.63 26.00) scale(1 1.12)" font-size="12.45px">0</text><text transform="translate(369.56 26.00) scale(1 1.12)" font-size="12.45px">,</text><text transform="translate(377.47 26.00) scale(1 1.12)" font-size="12.45px" font-style="italic">η</text>
<text transform="translate(384.39 29.50) scale(1 1.00)" font-size="8.70px" font-style="italic">L</text><text transform="translate(389.23 31.30) scale(1 1.00)" font-size="6.40px" font-style="italic">l</text>
<text transform="translate(386.39 20.10) scale(1 1.00)" font-size="8.70px" font-style="italic">in</text>
<text transform="translate(395.06 26.00) scale(1 1.12)" font-size="12.45px">=</text><text transform="translate(406.49 26.00) scale(1 1.12)" font-size="12.45px">0</text><text transform="translate(417.17 26.00) scale(1 1.12)" font-size="12.45px">)</text>
<line x1="270.4" x2="303.8" y1="45.7" y2="45.7" stroke="#ff0000" stroke-width="1.8" stroke-dasharray="7.12 4.27"/>
<text transform="translate(312.60 49.60) scale(1 1.12)" font-size="12.45px" font-style="italic">η</text><text transform="translate(319.51 53.10) scale(1 1.00)" font-size="8.70px" font-style="italic">B</text><text transform="translate(329.07 49.60) scale(1 1.12)" font-size="12.45px">(</text><text transform="translate(333.22 49.60) scale(1 1.12)" font-size="12.45px" font-style="italic">η</text>
<text transform="translate(340.13 53.10) scale(1 1.00)" font-size="8.70px" font-style="italic">B</text>
<text transform="translate(342.53 43.70) scale(1 1.00)" font-size="8.70px" font-style="italic">in</text>
<text transform="translate(351.20 49.60) scale(1 1.12)" font-size="12.45px">=</text><text transform="translate(362.63 49.60) scale(1 1.12)" font-size="12.45px">10</text><text transform="translate(376.68 42.10) scale(1 1.00)" font-size="8.70px">-5</text><text transform="translate(384.42 49.60) scale(1 1.12)" font-size="12.45px">,</text><text transform="translate(392.34 49.60) scale(1 1.12)" font-size="12.45px" font-style="italic">η</text>
<text transform="translate(399.25 53.10) scale(1 1.00)" font-size="8.70px" font-style="italic">L</text><text transform="translate(404.09 54.90) scale(1 1.00)" font-size="6.40px" font-style="italic">l</text>
<text transform="translate(401.25 43.70) scale(1 1.00)" font-size="8.70px" font-style="italic">in</text>
<text transform="translate(409.92 49.60) scale(1 1.12)" font-size="12.45px">=</text><text transform="translate(421.35 49.60) scale(1 1.12)" font-size="12.45px">-10</text><text transform="translate(439.54 42.10) scale(1 1.00)" font-size="8.70px">-5</text><text transform="translate(451.04 49.60) scale(1 1.12)" font-size="12.45px">)</text>
<line x1="270.4" x2="303.8" y1="69.3" y2="69.3" stroke="#0000ff" stroke-width="1.8" stroke-dasharray="1.42 4.27 7.12 4.27"/>
<text transform="translate(312.60 73.20) scale(1 1.12)" font-size="12.45px" font-style="italic">η</text><text transform="translate(319.51 76.70) scale(1 1.00)" font-size="8.70px" font-style="italic">B</text><text transform="translate(329.07 73.20) scale(1 1.12)" font-size="12.45px">(</text><text transform="translate(333.22 73.20) scale(1 1.12)" font-size="12.45px" font-style="italic">η</text>
<text transform="translate(340.13 76.70) scale(1 1.00)" font-size="8.70px" font-style="italic">B</text>
<text transform="translate(342.53 67.30) scale(1 1.00)" font-size="8.70px" font-style="italic">in</text>
<text transform="translate(351.20 73.20) scale(1 1.12)" font-size="12.45px">=</text><text transform="translate(362.63 73.20) scale(1 1.12)" font-size="12.45px">-10</text><text transform="translate(380.83 65.70) scale(1 1.00)" font-size="8.70px">-5</text><text transform="translate(388.56 73.20) scale(1 1.12)" font-size="12.45px">,</text><text transform="translate(396.48 73.20) scale(1 1.12)" font-size="12.45px" font-style="italic">η</text>
<text transform="translate(403.39 76.70) scale(1 1.00)" font-size="8.70px" font-style="italic">L</text><text transform="translate(408.23 78.50) scale(1 1.00)" font-size="6.40px" font-style="italic">l</text>
<text transform="translate(405.39 67.30) scale(1 1.00)" font-size="8.70px" font-style="italic">in</text>
<text transform="translate(414.07 73.20) scale(1 1.12)" font-size="12.45px">=</text><text transform="translate(425.49 73.20) scale(1 1.12)" font-size="12.45px">10</text><text transform="translate(439.54 65.70) scale(1 1.00)" font-size="8.70px">-5</text><text transform="translate(451.04 73.20) scale(1 1.12)" font-size="12.45px">)</text>
<line x1="270.4" x2="303.8" y1="92.9" y2="92.9" stroke="#7429cc" stroke-width="1.8" stroke-dasharray="1.42 4.27 7.12 4.27 1.42 4.27"/>
<text transform="translate(312.60 96.80) scale(1 1.12)" font-size="12.45px" font-style="italic">η</text><text transform="translate(319.51 100.30) scale(1 1.00)" font-size="8.70px" font-style="italic">B</text><text transform="translate(329.07 96.80) scale(1 1.12)" font-size="12.45px">(</text><text transform="translate(333.22 96.80) scale(1 1.12)" font-size="12.45px" font-style="italic">η</text>
<text transform="translate(340.13 100.30) scale(1 1.00)" font-size="8.70px" font-style="italic">B</text>
<text transform="translate(342.53 90.90) scale(1 1.00)" font-size="8.70px" font-style="italic">in</text>
<text transform="translate(351.20 96.80) scale(1 1.12)" font-size="12.45px">=</text><text transform="translate(362.63 96.80) scale(1 1.12)" font-size="12.45px">10</text><text transform="translate(376.68 89.30) scale(1 1.00)" font-size="8.70px">-6</text><text transform="translate(384.42 96.80) scale(1 1.12)" font-size="12.45px">,</text><text transform="translate(392.34 96.80) scale(1 1.12)" font-size="12.45px" font-style="italic">η</text>
<text transform="translate(399.25 100.30) scale(1 1.00)" font-size="8.70px" font-style="italic">L</text><text transform="translate(404.09 102.10) scale(1 1.00)" font-size="6.40px" font-style="italic">l</text>
<text transform="translate(401.25 90.90) scale(1 1.00)" font-size="8.70px" font-style="italic">in</text>
<text transform="translate(409.92 96.80) scale(1 1.12)" font-size="12.45px">=</text><text transform="translate(421.35 96.80) scale(1 1.12)" font-size="12.45px">-10</text><text transform="translate(439.54 89.30) scale(1 1.00)" font-size="8.70px">-6</text><text transform="translate(451.04 96.80) scale(1 1.12)" font-size="12.45px">)</text>
<line x1="270.4" x2="303.8" y1="116.5" y2="116.5" stroke="#0c920c" stroke-width="1.8" stroke-dasharray="1.42 4.27 9.97 4.27"/>
<text transform="translate(312.60 120.40) scale(1 1.12)" font-size="12.45px" font-style="italic">η</text><text transform="translate(319.51 123.90) scale(1 1.00)" font-size="8.70px" font-style="italic">B</text><text transform="translate(329.07 120.40) scale(1 1.12)" font-size="12.45px">(</text><text transform="translate(333.22 120.40) scale(1 1.12)" font-size="12.45px" font-style="italic">η</text>
<text transform="translate(340.13 123.90) scale(1 1.00)" font-size="8.70px" font-style="italic">B</text>
<text transform="translate(342.53 114.50) scale(1 1.00)" font-size="8.70px" font-style="italic">in</text>
<text transform="translate(351.20 120.40) scale(1 1.12)" font-size="12.45px">=</text><text transform="translate(362.63 120.40) scale(1 1.12)" font-size="12.45px">-10</text><text transform="translate(380.83 112.90) scale(1 1.00)" font-size="8.70px">-6</text><text transform="translate(388.56 120.40) scale(1 1.12)" font-size="12.45px">,</text><text transform="translate(396.48 120.40) scale(1 1.12)" font-size="12.45px" font-style="italic">η</text>
<text transform="translate(403.39 123.90) scale(1 1.00)" font-size="8.70px" font-style="italic">L</text><text transform="translate(408.23 125.70) scale(1 1.00)" font-size="6.40px" font-style="italic">l</text>
<text transform="translate(405.39 114.50) scale(1 1.00)" font-size="8.70px" font-style="italic">in</text>
<text transform="translate(414.07 120.40) scale(1 1.12)" font-size="12.45px">=</text><text transform="translate(425.49 120.40) scale(1 1.12)" font-size="12.45px">10</text><text transform="translate(439.54 112.90) scale(1 1.00)" font-size="8.70px">-6</text><text transform="translate(451.04 120.40) scale(1 1.12)" font-size="12.45px">)</text>
<line x1="270.4" x2="303.8" y1="140.1" y2="140.1" stroke="#ffa319" stroke-width="1.8" stroke-dasharray="7.12 4.27 1.42 4.27 7.12 4.27"/>
<text transform="translate(312.60 144.00) scale(1 1.12)" font-size="12.45px" font-style="italic">η</text><text transform="translate(319.51 147.50) scale(1 1.00)" font-size="8.70px" font-style="italic">B</text><text transform="translate(329.07 144.00) scale(1 1.12)" font-size="12.45px">(</text><text transform="translate(333.22 144.00) scale(1 1.12)" font-size="12.45px" font-style="italic">η</text>
<text transform="translate(340.13 147.50) scale(1 1.00)" font-size="8.70px" font-style="italic">B</text>
<text transform="translate(342.53 138.10) scale(1 1.00)" font-size="8.70px" font-style="italic">in</text>
<text transform="translate(351.20 144.00) scale(1 1.12)" font-size="12.45px">=</text><text transform="translate(362.63 144.00) scale(1 1.12)" font-size="12.45px">10</text><text transform="translate(376.68 136.50) scale(1 1.00)" font-size="8.70px">-7</text><text transform="translate(384.42 144.00) scale(1 1.12)" font-size="12.45px">,</text><text transform="translate(392.34 144.00) scale(1 1.12)" font-size="12.45px" font-style="italic">η</text>
<text transform="translate(399.25 147.50) scale(1 1.00)" font-size="8.70px" font-style="italic">L</text><text transform="translate(404.09 149.30) scale(1 1.00)" font-size="6.40px" font-style="italic">l</text>
<text transform="translate(401.25 138.10) scale(1 1.00)" font-size="8.70px" font-style="italic">in</text>
<text transform="translate(409.92 144.00) scale(1 1.12)" font-size="12.45px">=</text><text transform="translate(421.35 144.00) scale(1 1.12)" font-size="12.45px">-10</text><text transform="translate(439.54 136.50) scale(1 1.00)" font-size="8.70px">-7</text><text transform="translate(451.04 144.00) scale(1 1.12)" font-size="12.45px">)</text>
<line x1="270.4" x2="303.8" y1="163.7" y2="163.7" stroke="#660044" stroke-width="2.5" stroke-dasharray="2.56 7.40"/>
<text transform="translate(312.60 167.60) scale(1 1.12)" font-size="12.45px" font-style="italic">η</text><text transform="translate(319.51 171.10) scale(1 1.00)" font-size="8.70px" font-style="italic">B</text><text transform="translate(329.07 167.60) scale(1 1.12)" font-size="12.45px">(</text><text transform="translate(333.22 167.60) scale(1 1.12)" font-size="12.45px" font-style="italic">η</text>
<text transform="translate(340.13 171.10) scale(1 1.00)" font-size="8.70px" font-style="italic">B</text>
<text transform="translate(342.53 161.70) scale(1 1.00)" font-size="8.70px" font-style="italic">in</text>
<text transform="translate(351.20 167.60) scale(1 1.12)" font-size="12.45px">=</text><text transform="translate(362.63 167.60) scale(1 1.12)" font-size="12.45px">-10</text><text transform="translate(380.83 160.10) scale(1 1.00)" font-size="8.70px">-7</text><text transform="translate(388.56 167.60) scale(1 1.12)" font-size="12.45px">,</text><text transform="translate(396.48 167.60) scale(1 1.12)" font-size="12.45px" font-style="italic">η</text>
<text transform="translate(403.39 171.10) scale(1 1.00)" font-size="8.70px" font-style="italic">L</text><text transform="translate(408.23 172.90) scale(1 1.00)" font-size="6.40px" font-style="italic">l</text>
<text transform="translate(405.39 161.70) scale(1 1.00)" font-size="8.70px" font-style="italic">in</text>
<text transform="translate(414.07 167.60) scale(1 1.12)" font-size="12.45px">=</text><text transform="translate(425.49 167.60) scale(1 1.12)" font-size="12.45px">10</text><text transform="translate(439.54 160.10) scale(1 1.00)" font-size="8.70px">-7</text><text transform="translate(451.04 167.60) scale(1 1.12)" font-size="12.45px">)</text>
</g>
</svg></body></html>
